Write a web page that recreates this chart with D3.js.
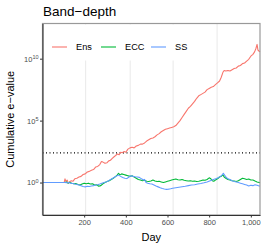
<!doctype html>
<meta charset="utf-8">
<title>Band-depth</title>
<script src="https://cdn.jsdelivr.net/npm/d3@7"></script>
<style>
  body { margin: 0; background: white; }
  text { font-family: "Liberation Sans", Arial, sans-serif; }
</style>
<body>
<div id="chart"></div>
<script>

// log10 of the cumulative e-value: [day, log10]
var ens = [[0,0],[104,0],[108,0.3],[112,0.1],[118,0.2],[124,-0.05],[130,0.05],[138,0.15],[146,0.1],[155,0.3],
  [165,0.35],[175,0.45],[185,0.5],[195,0.65],[205,0.7],[215,0.85],[225,0.9],[235,1.0],[245,1.05],[255,1.25],
  [265,1.3],[275,1.45],[283,1.7],[290,1.65],[300,1.55],[310,1.6],[318,1.75],[326,1.8],[335,1.95],[345,2.1],
  [352,2.2],[360,2.3],[368,2.25],[375,2.45],[383,2.4],[392,2.5],[400,2.45],[410,2.7],[420,2.8],[430,2.85],
  [440,2.8],[450,2.95],[460,3.0],[470,3.1],[480,3.1],[490,3.2],[500,3.35],[510,3.45],[520,3.55],[530,3.6],
  [540,3.7],[550,3.85],[560,3.95],[570,4.1],[580,4.2],[590,4.3],[600,4.35],[610,4.4],[620,4.45],[630,4.5],
  [640,4.6],[650,4.8],[660,5.0],[670,5.25],[680,5.5],[690,5.75],[700,6.0],[710,6.15],[720,6.35],[730,6.55],
  [740,6.8],[750,7.0],[760,7.1],[770,7.2],[780,7.3],[790,7.5],[800,7.6],[810,7.7],[820,7.75],[830,7.9],
  [840,8.05],[850,8.2],[858,8.5],[866,8.9],[872,9.05],[880,9.0],[890,9.05],[900,9.0],[910,9.1],[920,9.2],
  [930,9.25],[940,9.4],[950,9.45],[960,9.6],[970,9.65],[980,9.8],[990,9.95],[1000,10.2],[1010,10.35],
  [1018,10.55],[1024,10.8],[1030,11.15],[1034,10.7],[1040,10.6],[1044,10.55]];

var ecc = [[0,0],[108,0],[115,0.05],[122,-0.05],[130,0.02],[140,-0.05],[150,-0.1],[160,-0.08],[170,-0.15],
  [180,-0.2],[190,-0.12],[200,-0.05],[210,-0.1],[220,-0.05],[230,-0.12],[240,-0.1],[250,-0.2],[260,-0.18],
  [270,-0.3],[280,-0.25],[290,-0.1],[300,0.0],[310,0.08],[320,0.15],[330,0.25],[340,0.35],[350,0.48],
  [358,0.6],[365,0.75],[372,0.62],[380,0.7],[390,0.65],[400,0.6],[410,0.55],[420,0.5],[430,0.55],[440,0.45],
  [450,0.35],[460,0.25],[470,0.2],[480,0.15],[490,0.18],[500,0.1],[510,0.08],[520,0.12],[530,0.2],[540,0.12],
  [550,0.08],[560,0.1],[570,0.05],[580,0.0],[590,0.05],[600,0.1],[610,0.15],[620,0.2],[630,0.25],[640,0.28],
  [650,0.22],[660,0.2],[670,0.25],[680,0.18],[690,0.15],[700,0.12],[710,0.15],[720,0.1],[730,0.12],[740,0.08],
  [750,0.1],[760,0.15],[770,0.2],[780,0.18],[790,0.25],[800,0.38],[808,0.3],[815,0.15],[822,0.1],[830,0.2],
  [840,0.3],[850,0.45],[858,0.5],[866,0.62],[872,0.45],[880,0.35],[890,0.25],[900,0.2],[910,0.15],[920,0.12],
  [930,0.08],[940,0.15],[950,0.25],[960,0.35],[970,0.3],[980,0.25],[990,0.28],[1000,0.2],[1010,0.2],
  [1020,0.12],[1030,0.05],[1040,0.0],[1044,-0.02]];

var ss = [[0,0],[108,0],[115,-0.02],[125,0.0],[135,-0.05],[145,-0.08],[155,-0.12],[165,-0.15],[175,-0.2],
  [185,-0.25],[195,-0.32],[205,-0.35],[215,-0.3],[225,-0.32],[235,-0.28],[245,-0.25],[255,-0.2],[265,-0.18],
  [275,-0.12],[285,-0.05],[295,0.0],[305,0.05],[315,0.12],[325,0.22],[335,0.32],[345,0.42],[355,0.52],
  [365,0.6],[375,0.5],[385,0.4],[395,0.35],[405,0.32],[415,0.45],[425,0.55],[435,0.5],[445,0.47],[455,0.45],
  [465,0.42],[475,0.3],[485,0.2],[490,0.25],[497,0.0],[505,-0.05],[515,-0.1],[525,-0.12],[535,-0.2],
  [545,-0.28],[555,-0.35],[565,-0.42],[575,-0.48],[585,-0.52],[595,-0.55],[605,-0.53],[615,-0.5],[625,-0.46],
  [640,-0.42],[655,-0.38],[670,-0.34],[685,-0.3],[700,-0.25],[715,-0.2],[730,-0.18],[745,-0.12],[760,-0.08],
  [775,-0.02],[790,0.05],[805,0.15],[820,0.25],[835,0.32],[845,0.4],[855,0.5],[862,0.62],[868,0.75],
  [874,0.6],[880,0.45],[890,0.3],[900,0.25],[910,0.15],[920,0.08],[930,0.05],[940,0.0],[950,-0.05],
  [960,-0.1],[970,-0.15],[980,-0.2],[990,-0.28],[1000,-0.22],[1010,-0.25],[1020,-0.18],[1030,-0.22],
  [1040,-0.28],[1044,-0.28]];

var seriesNames = ['Ens', 'ECC', 'SS']
  , seriesColors = ['#F8766D', '#00BA38', '#619CFF']
  , markerDays = [207, 421, 627, 838]
  , threshold = 250
  , xTicks = [200, 400, 600, 800, 1000]
  , yTickExps = [0, 5, 10];

var width = 266
  , height = 250
  , margin = { top: 23.5, right: 6, bottom: 35, left: 42.5 };

var svg = d3.select('#chart').append('svg')
  .attr('width', width)
  .attr('height', height);

var x = d3.scaleLinear().domain([0, 1044]).range([margin.left, width - margin.right]);
var y = d3.scaleLog().domain([Math.pow(10, -2.62), Math.pow(10, 12.84)])
  .range([height - margin.bottom, margin.top]);

// marker lines
svg.selectAll('line.marker')
  .data(markerDays)
  .enter().append('line')
  .attr('class', 'marker')
  .attr('x1', function(d) { return x(d) }).attr('x2', function(d) { return x(d) })
  .attr('y1', y.range()[1]).attr('y2', y.range()[0])
  .style('stroke', '#ebebeb')
  .style('stroke-width', 1.1);

// legend background hides the marker lines behind it
svg.append('rect')
  .attr('x', margin.left + 1).attr('y', margin.top + 1)
  .attr('width', 150).attr('height', 36)
  .style('fill', 'white');

// threshold
svg.append('line')
  .attr('x1', x.range()[0]).attr('x2', x.range()[1])
  .attr('y1', y(threshold)).attr('y2', y(threshold))
  .style('stroke', 'black')
  .style('stroke-width', 1.1)
  .style('stroke-dasharray', '1,2.5');

var line = d3.line()
  .x(function(d) { return x(d[0]) })
  .y(function(d) { return y(Math.pow(10, d[1])) });

[ens, ecc, ss].forEach(function(data, i) {
  svg.append('path')
    .datum(data)
    .attr('d', line)
    .style('fill', 'none')
    .style('stroke', seriesColors[i])
    .style('stroke-width', 1.1)
    .style('stroke-linejoin', 'round');
});

// panel border
svg.append('rect')
  .attr('x', x.range()[0]).attr('y', y.range()[1])
  .attr('width', x.range()[1] - x.range()[0])
  .attr('height', y.range()[0] - y.range()[1])
  .style('fill', 'none')
  .style('stroke', '#999')
  .style('stroke-width', 1.2);

// axes
var xAxis = svg.append('g')
  .attr('transform', 'translate(0,' + y.range()[0] + ')')
  .call(d3.axisBottom(x).tickValues(xTicks).tickSize(2.5).tickPadding(2).tickSizeOuter(0));
var yAxis = svg.append('g')
  .attr('transform', 'translate(' + x.range()[0] + ',0)')
  .call(d3.axisLeft(y).tickValues(yTickExps.map(function(e) { return Math.pow(10, e) }))
    .tickSize(2.5).tickSizeOuter(0).tickFormat(''));

[xAxis, yAxis].forEach(function(g) {
  g.select('.domain').style('stroke', '#333').style('stroke-width', 1.1);
  g.selectAll('.tick line').style('stroke', '#333').style('stroke-width', 1);
});
xAxis.selectAll('.tick text')
  .style('font-size', '7.5px')
  .style('fill', '#4d4d4d');

// y tick labels as 10 with superscript
yAxis.selectAll('.tick').each(function(d) {
  var t = d3.select(this).append('text')
    .attr('x', -4).attr('dy', '0.32em')
    .attr('text-anchor', 'end')
    .style('font-size', '7.5px')
    .style('fill', '#4d4d4d');
  t.append('tspan').text('10');
  t.append('tspan').attr('dy', '-0.45em').style('font-size', '5.5px')
    .text(Math.round(Math.log10(d)));
});

// titles
svg.append('text')
  .attr('x', 43).attr('y', 16)
  .style('font-size', '13.5px')
  .text('Band\u2212depth');

svg.append('text')
  .attr('transform', 'translate(14,' + ((y.range()[0] + y.range()[1]) / 2) + ') rotate(-90)')
  .attr('text-anchor', 'middle')
  .style('font-size', '11px')
  .text('Cumulative e\u2212value');

svg.append('text')
  .attr('x', (x.range()[0] + x.range()[1]) / 2).attr('y', 241)
  .attr('text-anchor', 'middle')
  .style('font-size', '11px')
  .text('Day');

// legend
var legendX = [52, 101, 151];
var leg = svg.selectAll('g.legend')
  .data(seriesNames)
  .enter().append('g')
  .attr('class', 'legend')
  .attr('transform', function(d, i) { return 'translate(' + legendX[i] + ',47)' });
leg.append('line')
  .attr('x1', 0).attr('x2', 15)
  .style('stroke', function(d, i) { return seriesColors[i] })
  .style('stroke-width', 1.1);
leg.append('text')
  .attr('x', 24).attr('dy', '0.35em')
  .style('font-size', '9.2px')
  .text(function(d) { return d });

</script>
</body>
